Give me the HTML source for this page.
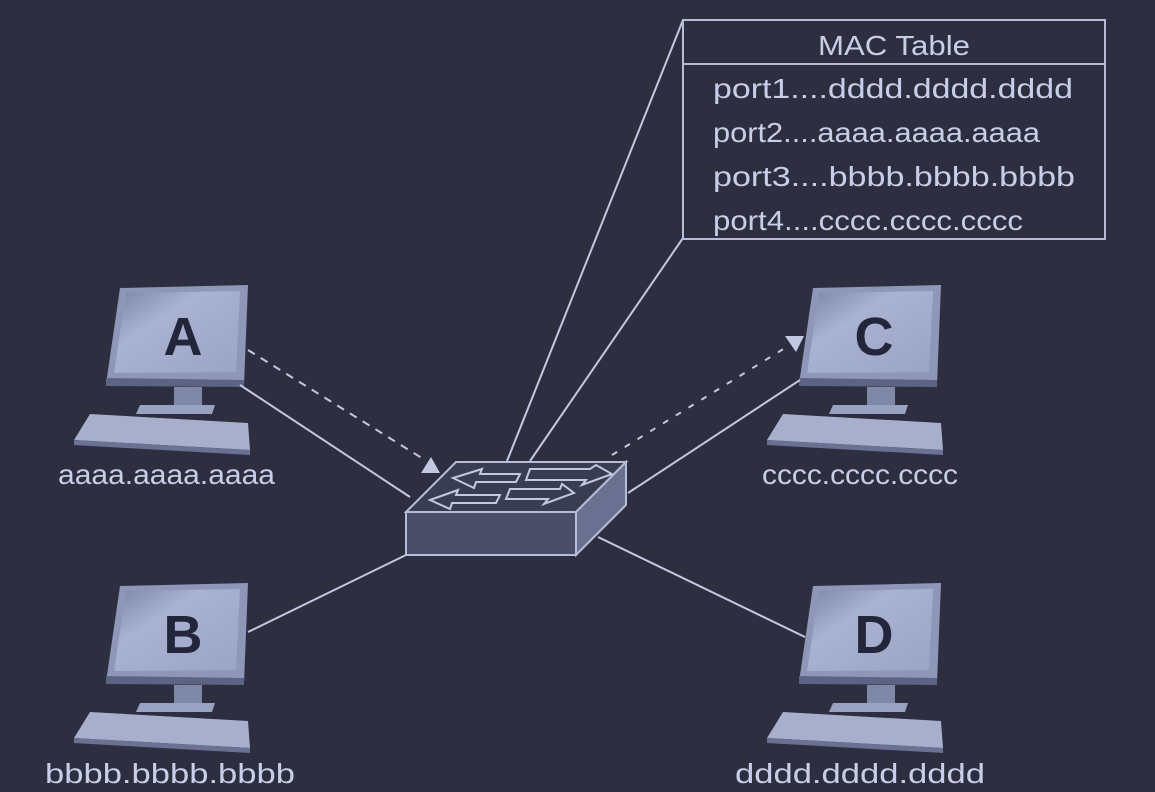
<!DOCTYPE html>
<html><head><meta charset="utf-8"><style>
html,body{margin:0;padding:0;background:#2d2f40;}
svg{display:block;}
text{font-family:"Liberation Sans",sans-serif;fill:#c9cee8;}
</style></head><body>
<svg width="1155" height="792" viewBox="0 0 1155 792" xmlns="http://www.w3.org/2000/svg">
<defs>
<linearGradient id="scr" x1="0" y1="0" x2="1" y2="1">
<stop offset="0" stop-color="#7c84a6"/><stop offset="0.35" stop-color="#aab2d2"/><stop offset="1" stop-color="#9ca4c6"/>
</linearGradient>
<g id="pc">
<polygon points="120,288 248,285 244,385 106,384" fill="#8f97b8"/>
<polygon points="126,293 240,291 236,372 114,373" fill="url(#scr)"/>
<polygon points="106,378 244,380 244,387 106,386" fill="#5d6383"/>
<rect x="174" y="387" width="28" height="20" fill="#8088a8"/>
<polygon points="140,405 215,405 212,414 136,414" fill="#9aa2c2"/>
<polygon points="90,414 248,423 250,450 74,440" fill="#a7afcd"/>
<polygon points="74,440 250,450 250,455 74,445" fill="#6b7192"/>
</g>
</defs>
<rect width="1155" height="792" fill="#2d2f40"/>

<!-- computers -->
<use href="#pc"/>
<use href="#pc" transform="translate(0,298)"/>
<use href="#pc" transform="translate(693,0)"/>
<use href="#pc" transform="translate(693,298)"/>
<g font-weight="bold" font-size="54" text-anchor="middle" style="fill:#23263a">
<text x="183" y="355" style="fill:#23263a">A</text>
<text x="183" y="653" style="fill:#23263a">B</text>
<text x="874" y="355" style="fill:#23263a">C</text>
<text x="874" y="653" style="fill:#23263a">D</text>
</g>

<!-- lines -->
<g stroke="#c3c8e2" stroke-width="2" fill="none">
<line x1="240" y1="385" x2="410" y2="497"/>
<line x1="248" y1="632" x2="406" y2="555"/>
<line x1="628" y1="493" x2="800" y2="380"/>
<line x1="598" y1="537" x2="805" y2="637"/>
<line x1="507" y1="461" x2="683" y2="20"/>
<line x1="530" y1="461" x2="683" y2="238"/>
<line x1="248" y1="350" x2="425" y2="460" stroke-dasharray="8,7"/>
<line x1="612" y1="455" x2="785" y2="348" stroke-dasharray="6,9"/>
</g>
<polygon points="421,473 440,473 431,457" fill="#c3c8e2"/>
<polygon points="785,336 804,336 796,352" fill="#c3c8e2"/>

<!-- switch -->
<polygon points="406,512 456,462 626,462 576,512" fill="#3a3d52" stroke="#b7bcd8" stroke-width="2"/>
<rect x="406" y="512" width="170" height="43" fill="#4a4e68" stroke="#b7bcd8" stroke-width="2"/>
<polygon points="576,512 626,462 626,505 576,555" fill="#6a7090" stroke="#b7bcd8" stroke-width="2"/>
<g fill="none" stroke="#c3c8e2" stroke-width="2">
<polygon points="453,478 482,469 480,474 520,474 516,482 476,482 474,488"/>
<polygon points="530,469 590,469 596,465 612,474 582,485 586,480 526,480"/>
<polygon points="430,500 458,490 456,495 500,495 496,503 452,503 450,509"/>
<polygon points="510,489 560,489 562,484 574,493 544,504 548,499 506,499"/>
</g>

<!-- MAC table -->
<rect x="683" y="20" width="422" height="219" fill="none" stroke="#b7bcd8" stroke-width="2"/>
<line x1="683" y1="64" x2="1105" y2="64" stroke="#b7bcd8" stroke-width="2"/>
<g font-size="28">
<text x="818" y="55" textLength="152" lengthAdjust="spacingAndGlyphs">MAC Table</text>
<text x="713" y="98" textLength="360" lengthAdjust="spacingAndGlyphs">port1....dddd.dddd.dddd</text>
<text x="713" y="142" textLength="327" lengthAdjust="spacingAndGlyphs">port2....aaaa.aaaa.aaaa</text>
<text x="713" y="186" textLength="362" lengthAdjust="spacingAndGlyphs">port3....bbbb.bbbb.bbbb</text>
<text x="713" y="230" textLength="310" lengthAdjust="spacingAndGlyphs">port4....cccc.cccc.cccc</text>
<text x="58" y="484" textLength="217" lengthAdjust="spacingAndGlyphs">aaaa.aaaa.aaaa</text>
<text x="45" y="783" textLength="250" lengthAdjust="spacingAndGlyphs">bbbb.bbbb.bbbb</text>
<text x="762" y="484" textLength="196" lengthAdjust="spacingAndGlyphs">cccc.cccc.cccc</text>
<text x="735" y="783" textLength="250" lengthAdjust="spacingAndGlyphs">dddd.dddd.dddd</text>
</g>
</svg>
</body></html>
